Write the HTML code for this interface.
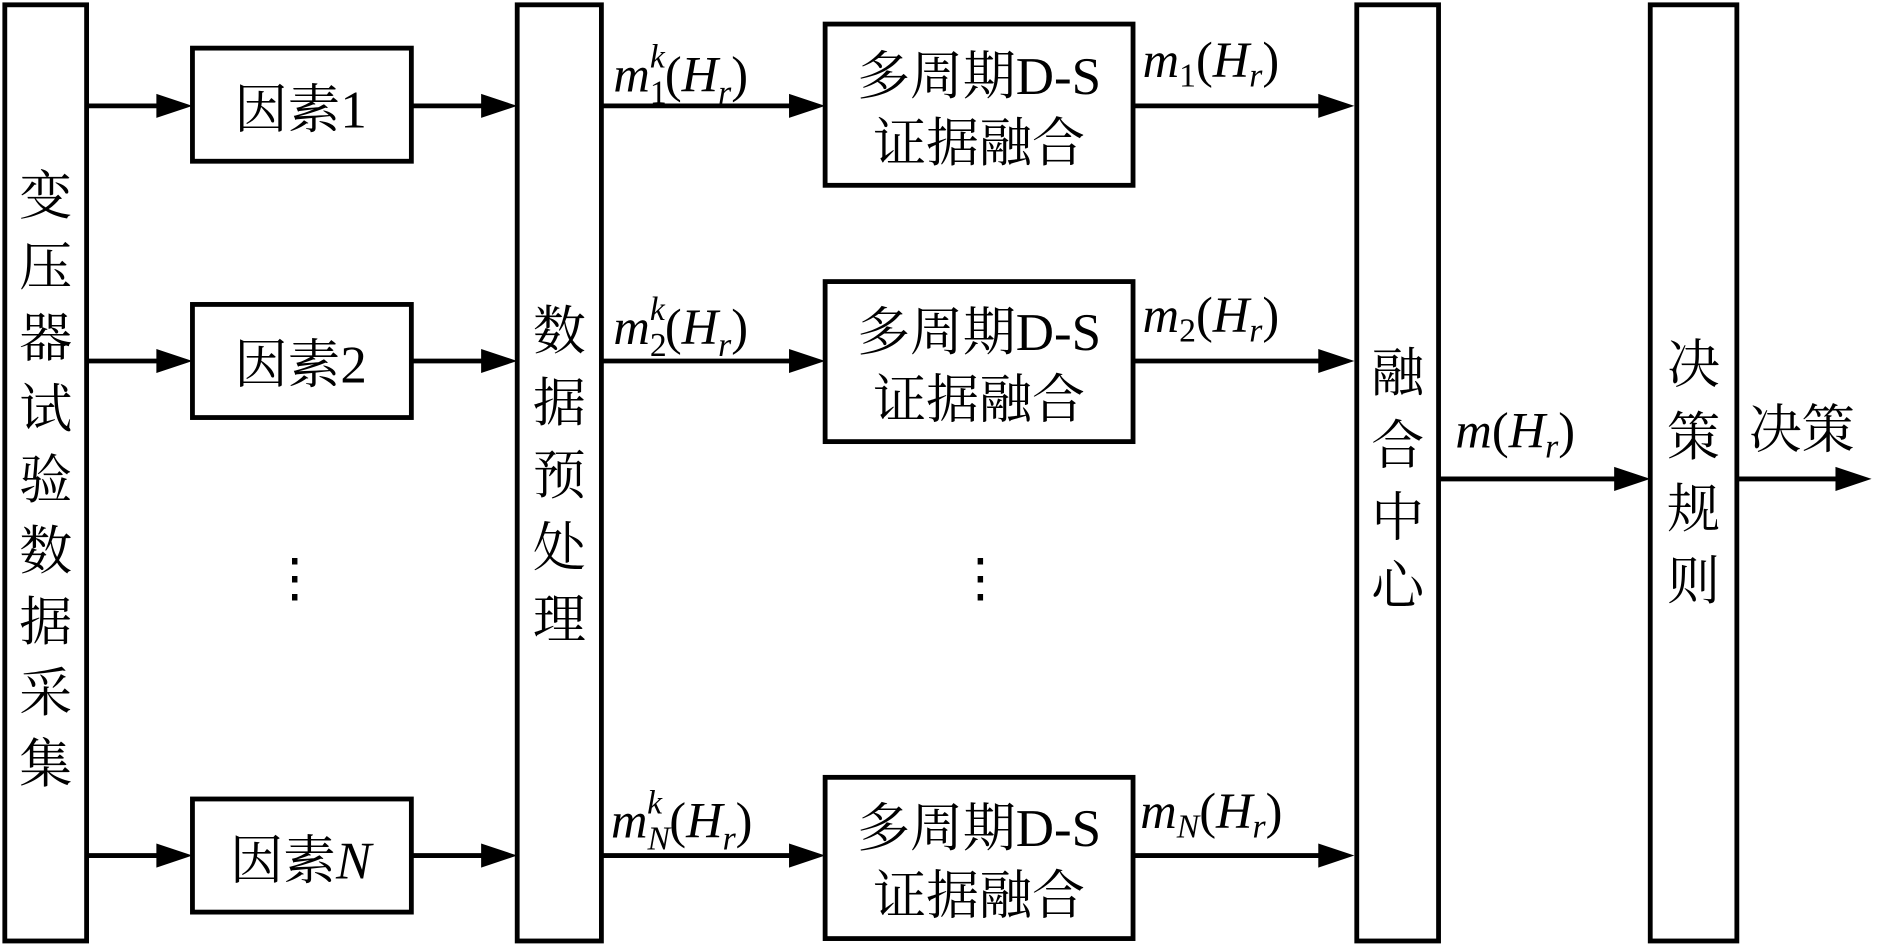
<!DOCTYPE html>
<html><head><meta charset="utf-8"><style>
html,body{margin:0;padding:0;background:#fff;}
svg{display:block;}
text{font-family:"Liberation Serif","Noto Serif CJK SC","Noto Sans CJK SC",serif;fill:#000;}
</style></head><body>
<svg width="1886" height="947" viewBox="0 0 1568 787" preserveAspectRatio="none" xmlns="http://www.w3.org/2000/svg">
<g fill="none" stroke="#000" stroke-width="4">
<rect x="4" y="4" width="68" height="778"/>
<rect x="160" y="40" width="182" height="94"/>
<rect x="160" y="253" width="182" height="94"/>
<rect x="160" y="664" width="182" height="94"/>
<rect x="430" y="4" width="70" height="778"/>
<rect x="686" y="20" width="256" height="134"/>
<rect x="686" y="234" width="256" height="133"/>
<rect x="686" y="646" width="256" height="134"/>
<rect x="1128" y="4" width="68" height="778"/>
<rect x="1372" y="4" width="72" height="778"/>
<line x1="72" y1="88" x2="132" y2="88"/><line x1="72" y1="300" x2="132" y2="300"/><line x1="72" y1="711" x2="132" y2="711"/>
<line x1="342" y1="88" x2="402" y2="88"/><line x1="342" y1="300" x2="402" y2="300"/><line x1="342" y1="711" x2="402" y2="711"/>
<line x1="500" y1="88" x2="658" y2="88"/><line x1="500" y1="300" x2="658" y2="300"/><line x1="500" y1="711" x2="658" y2="711"/>
<line x1="942" y1="88" x2="1098" y2="88"/><line x1="942" y1="300" x2="1098" y2="300"/><line x1="942" y1="711" x2="1098" y2="711"/>
<line x1="1196" y1="398" x2="1344" y2="398"/><line x1="1444" y1="398" x2="1528" y2="398"/>
</g>
<g fill="#000">
<polygon points="160,88 130,78 130,98"/><polygon points="160,300 130,290 130,310"/><polygon points="160,711 130,701 130,721"/>
<polygon points="430,88 400,78 400,98"/><polygon points="430,300 400,290 400,310"/><polygon points="430,711 400,701 400,721"/>
<polygon points="686,88 656,78 656,98"/><polygon points="686,300 656,290 656,310"/><polygon points="686,711 656,701 656,721"/>
<polygon points="1126,88 1096,78 1096,98"/><polygon points="1126,300 1096,290 1096,310"/><polygon points="1126,711 1096,701 1096,721"/>
<polygon points="1372,398 1342,388 1342,408"/><polygon points="1556,398 1526,388 1526,408"/>
</g>
<g font-size="44" text-anchor="middle">
<text x="38" y="178">变</text><text x="38" y="237">压</text><text x="38" y="296">器</text><text x="38" y="355">试</text><text x="38" y="414">验</text><text x="38" y="473">数</text><text x="38" y="532">据</text><text x="38" y="591">采</text><text x="38" y="650">集</text>
<text x="465" y="290">数</text><text x="465" y="350">据</text><text x="465" y="410">预</text><text x="465" y="470">处</text><text x="465" y="530">理</text>
<text x="1162" y="325">融</text><text x="1162" y="385">合</text><text x="1162" y="445">中</text><text x="1162" y="502">心</text>
<text x="1408" y="318">决</text><text x="1408" y="378">策</text><text x="1408" y="438">规</text><text x="1408" y="498">则</text>
<text x="250" y="106">因素1</text><text x="250" y="318">因素2</text>
<text x="250" y="730">因素<tspan font-style="italic">N</tspan></text>
<text x="814" y="78">多周期D-S</text><text x="814" y="134">证据融合</text>
<text x="814" y="291">多周期D-S</text><text x="814" y="347">证据融合</text>
<text x="814" y="703">多周期D-S</text><text x="814" y="759">证据融合</text>
<text x="245" y="495">⋮</text><text x="815" y="495">⋮</text>
</g>
<g font-size="42">
<text x="510" y="76"><tspan font-style="italic">m</tspan><tspan font-size="28" dy="10">1</tspan><tspan font-size="28" font-style="italic" dx="-14" dy="-30">k</tspan><tspan dy="20">(</tspan><tspan font-style="italic">H</tspan><tspan font-style="italic" font-size="28" dy="10">r</tspan><tspan dy="-10">)</tspan></text>
<text x="510" y="286"><tspan font-style="italic">m</tspan><tspan font-size="28" dy="10">2</tspan><tspan font-size="28" font-style="italic" dx="-14" dy="-30">k</tspan><tspan dy="20">(</tspan><tspan font-style="italic">H</tspan><tspan font-style="italic" font-size="28" dy="10">r</tspan><tspan dy="-10">)</tspan></text>
<text x="508" y="696"><tspan font-style="italic">m</tspan><tspan font-size="28" font-style="italic" dy="10">N</tspan><tspan font-size="28" font-style="italic" dx="-19" dy="-30">k</tspan><tspan dx="6" dy="20">(</tspan><tspan font-style="italic">H</tspan><tspan font-style="italic" font-size="28" dy="10">r</tspan><tspan dy="-10">)</tspan></text>
<text x="950" y="64"><tspan font-style="italic">m</tspan><tspan font-size="28" dy="8">1</tspan><tspan dy="-8">(</tspan><tspan font-style="italic">H</tspan><tspan font-style="italic" font-size="28" dy="8">r</tspan><tspan dy="-8">)</tspan></text>
<text x="950" y="276"><tspan font-style="italic">m</tspan><tspan font-size="28" dy="8">2</tspan><tspan dy="-8">(</tspan><tspan font-style="italic">H</tspan><tspan font-style="italic" font-size="28" dy="8">r</tspan><tspan dy="-8">)</tspan></text>
<text x="948" y="688"><tspan font-style="italic">m</tspan><tspan font-size="28" font-style="italic" dy="8">N</tspan><tspan dy="-8">(</tspan><tspan font-style="italic">H</tspan><tspan font-style="italic" font-size="28" dy="8">r</tspan><tspan dy="-8">)</tspan></text>
<text x="1210" y="372"><tspan font-style="italic">m</tspan>(<tspan font-style="italic">H</tspan><tspan font-style="italic" font-size="28" dy="8">r</tspan><tspan dy="-8">)</tspan></text>
</g>
<text x="1454" y="372" font-size="44">决策</text>
</svg>
</body></html>
